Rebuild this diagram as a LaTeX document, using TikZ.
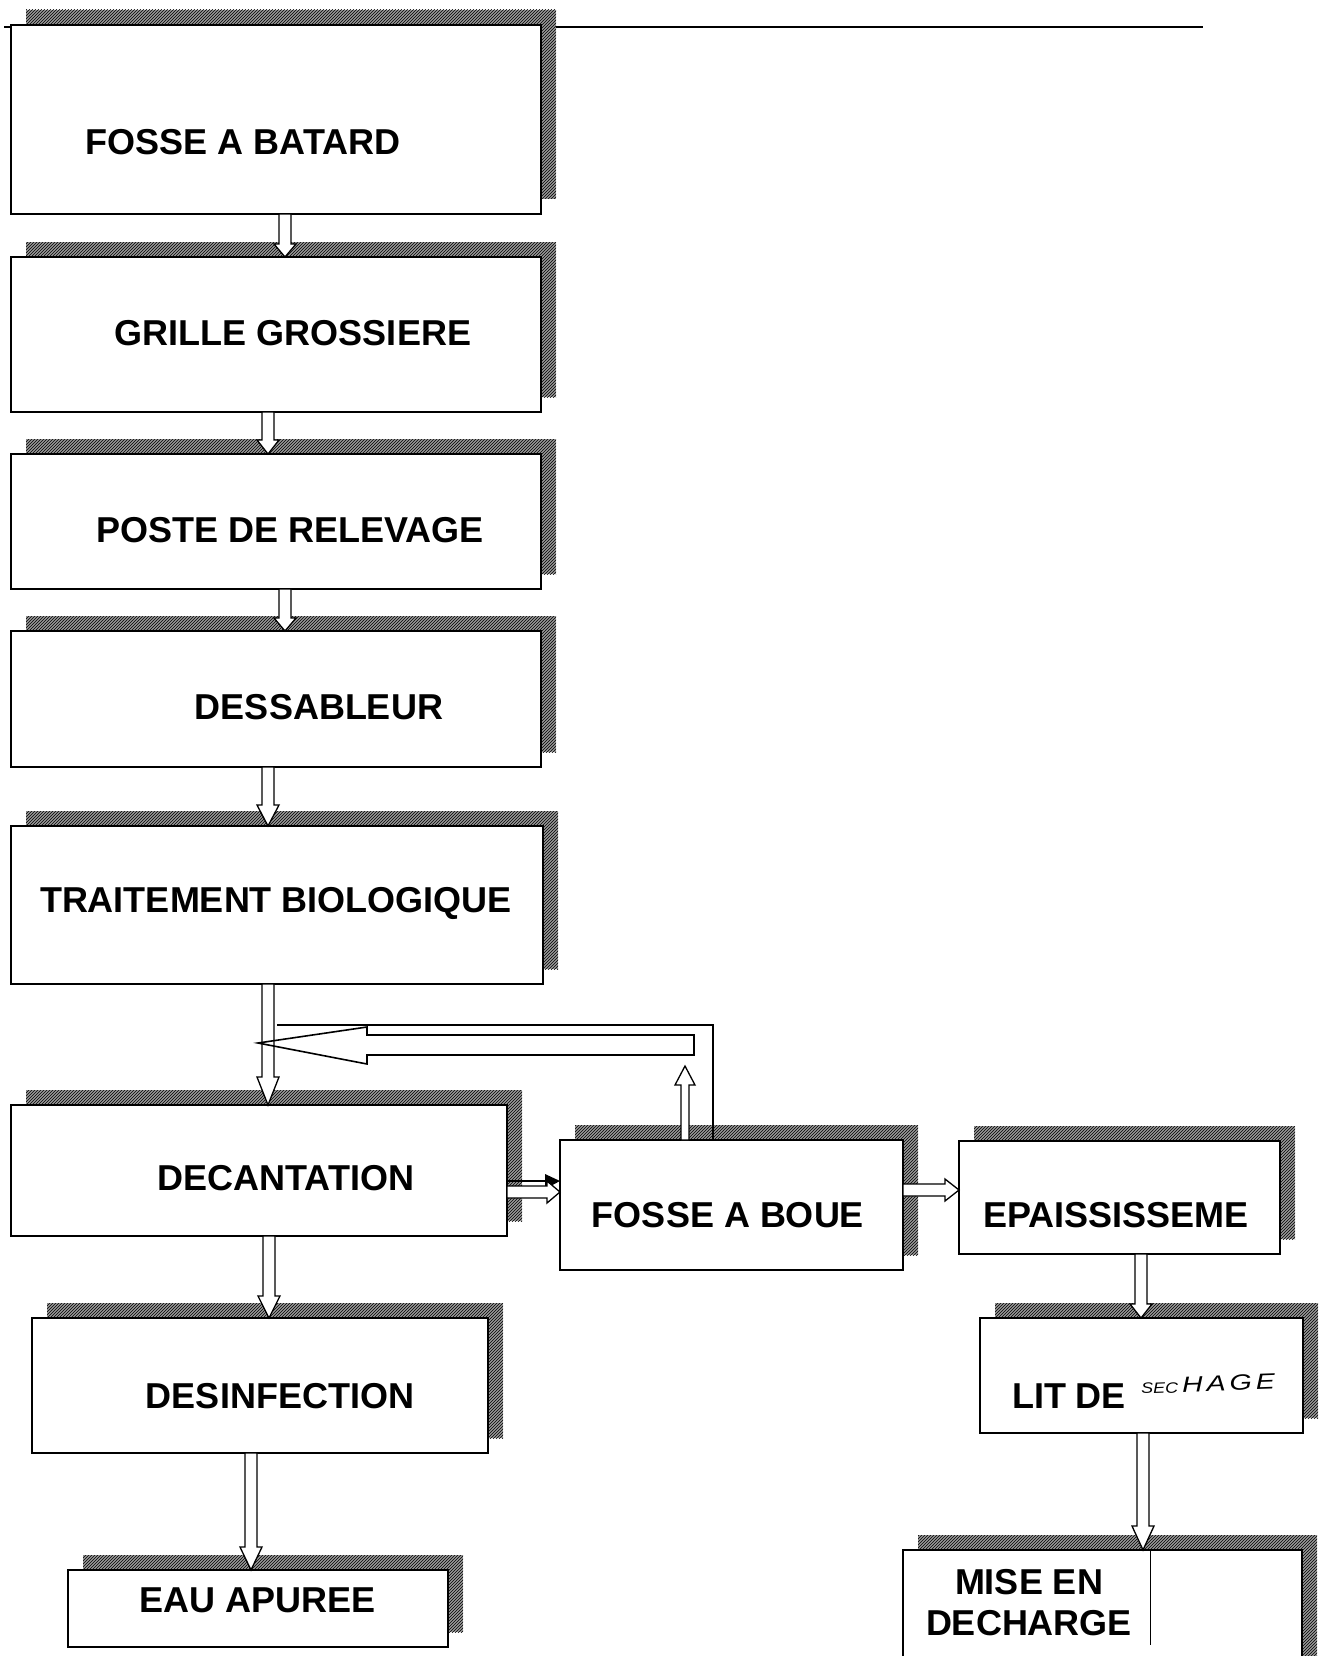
\documentclass[tikz,border=0pt]{standalone}
\usepackage{fontspec}
\usepackage{graphicx}
\setmainfont{Liberation Sans}
\usetikzlibrary{calc,backgrounds,patterns}
\newcommand\vconn[4]{%
  \draw[conn] let \p1=(#1.south -| #3), \p2=(#2.north -| #3) in
    (\x1-6pt,\y1) -- (\x1-6pt,\y2+#4pt) -- (\x1-11pt,\y2+#4pt) -- (\x1,\y2)
    -- (\x1+11pt,\y2+#4pt) -- (\x1+6pt,\y2+#4pt) -- (\x1+6pt,\y1) -- cycle;}
\newcommand\hconn[4]{%
  \draw[conn] let \p1=(#1.east |- #3), \p2=(#2.west |- #3) in
    (\x1,\y1+6pt) -- (\x2-#4pt,\y1+6pt) -- (\x2-#4pt,\y1+11pt) -- (\x2,\y1)
    -- (\x2-#4pt,\y1-11pt) -- (\x2-#4pt,\y1-6pt) -- (\x1,\y1-6pt) -- cycle;}
\begin{document}
\begin{tikzpicture}[x=1pt,y=-1pt,
  boxsty/.style={draw=black, line width=1.5pt, fill=white, rectangle, anchor=north west, inner sep=0pt, outer sep=0pt},
  lbl/.style={font=\bfseries\fontsize{36}{41}\selectfont, inner sep=0pt, align=center},
  conn/.style={draw=black, line width=1.3pt, fill=white, line join=miter},
  thinconn/.style={draw=black, line width=1.3pt},
  shadowsty/.style={fill=black!40, postaction={pattern=north east lines, pattern color=black}}]
\useasboundingbox (0,0) rectangle (1325,1656);
\clip (0,0) rectangle (1325,1656);

% boxes
\node[boxsty, minimum width=530, minimum height=189] (b1) at (11,25) {};
\node[boxsty, minimum width=530, minimum height=155] (b2) at (11,257) {};
\node[boxsty, minimum width=530, minimum height=135] (b3) at (11,454) {};
\node[boxsty, minimum width=530, minimum height=136] (b4) at (11,631) {};
\node[boxsty, minimum width=532, minimum height=158] (b5) at (11,826) {};
\node[boxsty, minimum width=496, minimum height=131] (dec) at (11,1105) {};
\node[boxsty, minimum width=456, minimum height=135] (des) at (32,1318) {};
\node[boxsty, minimum width=380, minimum height=77] (eau) at (68,1570) {};
\node[boxsty, minimum width=343, minimum height=130] (fab) at (560,1140) {};
\node[boxsty, minimum width=321, minimum height=113] (epa) at (959,1141) {};
\node[boxsty, minimum width=323, minimum height=115] (lit) at (980,1318) {};
\node[boxsty, minimum width=399, minimum height=150] (mise) at (903,1550) {};

% labels
\node[lbl] (t1) at (243,142) {FOSSE A BATARD};
\node[lbl] (t2) at (293,333) {GRILLE GROSSIERE};
\node[lbl] (t3) at (290,530) {POSTE DE RELEVAGE};
\node[lbl] (t4) at (319,707) {DESSABLEUR};
\node[lbl] (t5) at (276,903) {TRAITEMENT BIOLOGIQUE};
\node[lbl] (tdec) at (286,1178) {DECANTATION};
\node[lbl] (tfab) at (728,1215) {FOSSE A BOUE};
\node[lbl] (tepa) at (1116,1215) {EPAISSISSEME};
\node[lbl] (tlit) at (1069,1396) {LIT DE};
\node[inner sep=0pt, font=\itshape, rotate=2] (tsec) at (1208,1384)
  {\scalebox{1.2}[1]{\fontsize{15}{15}\selectfont SEC}\hspace{4pt}\scalebox{1.3}[1]{\fontsize{22}{22}\selectfont H\kern3pt A\kern3pt G\kern3pt E}};
\node[lbl] (tdes) at (280,1396) {DESINFECTION};
\node[lbl] (teau) at (258,1600) {EAU APUREE};
\node[lbl] (tmise) at (1029,1603) {MISE EN\\DECHARGE};

% arrow positions
\coordinate (x12) at (285,0);
\coordinate (x23) at (268,0);
\coordinate (x34) at (285,0);
\coordinate (x45) at (268,0);
\coordinate (x5d) at (268,0);
\coordinate (xdd) at (269,0);
\coordinate (xde) at (251,0);
\coordinate (xel) at (1141,0);
\coordinate (xlm) at (1143,0);
\coordinate (xml) at (1150,0);
\coordinate (xfu) at (685,0);
\coordinate (ydf) at (0,1192);
\coordinate (ydb) at (0,1181);
\coordinate (yfe) at (0,1190);

\vconn{b1}{b2}{x12}{13}
\vconn{b2}{b3}{x23}{14}
\vconn{b3}{b4}{x34}{13}
\vconn{b4}{b5}{x45}{21}
\vconn{b5}{dec}{x5d}{28}
\vconn{dec}{des}{xdd}{22}
\vconn{des}{eau}{xde}{23}
\vconn{epa}{lit}{xel}{14}
\vconn{lit}{mise}{xlm}{24}

% line inside MISE EN DECHARGE
\draw[line width=1pt] (mise.north -| xml) -- ++(0,95);

% horizontal arrows
\draw[line width=1.2pt] (dec.east |- ydb) -- ([xshift=-14pt]fab.west |- ydb);
\fill ([xshift=-15pt,yshift=7pt]fab.west |- ydb) -- (fab.west |- ydb) -- ([xshift=-15pt,yshift=-8pt]fab.west |- ydb) -- cycle;
\hconn{dec}{fab}{ydf}{13}
\hconn{fab}{epa}{yfe}{14}

% up arrow from FOSSE A BOUE
\draw[conn] let \p1=(fab.north -| xfu) in
  (\x1-4pt,\y1) -- (\x1-4pt,\y1+55pt) -- (\x1-10pt,\y1+55pt) -- (\x1,\y1+74pt)
  -- (\x1+10pt,\y1+55pt) -- (\x1+4pt,\y1+55pt) -- (\x1+4pt,\y1) -- cycle;

% return loop
\coordinate (fbL) at (277,1025);
\coordinate (fbR) at (713,1025);
\coordinate (fbtip) at (258,1043);
\draw[thinconn] (fbL) -- (fbR) -- (fab.north -| fbR);
\draw[line width=1.6pt, line join=miter] (fbtip) -- (367,1027) -- (367,1035) -- (694,1035)
  -- (694,1055) -- (367,1055) -- (367,1064) -- cycle;

% background: page, top rule, shadows
\begin{scope}[on background layer]
  \fill[white] (0,0) rectangle (1325,1656);
  \coordinate (topL) at (4,27);
  \coordinate (topR) at (1203,27);
  \draw[line width=1.3pt] (topL) -- (topR);
  \foreach \n in {b1,b2,b3,b4,b5,dec,des,eau,fab,epa,lit,mise}
    \path[shadowsty] ([shift={(15pt,15pt)}]\n.south west) rectangle ([shift={(15pt,15pt)}]\n.north east);
\end{scope}
\end{tikzpicture}
\end{document}
